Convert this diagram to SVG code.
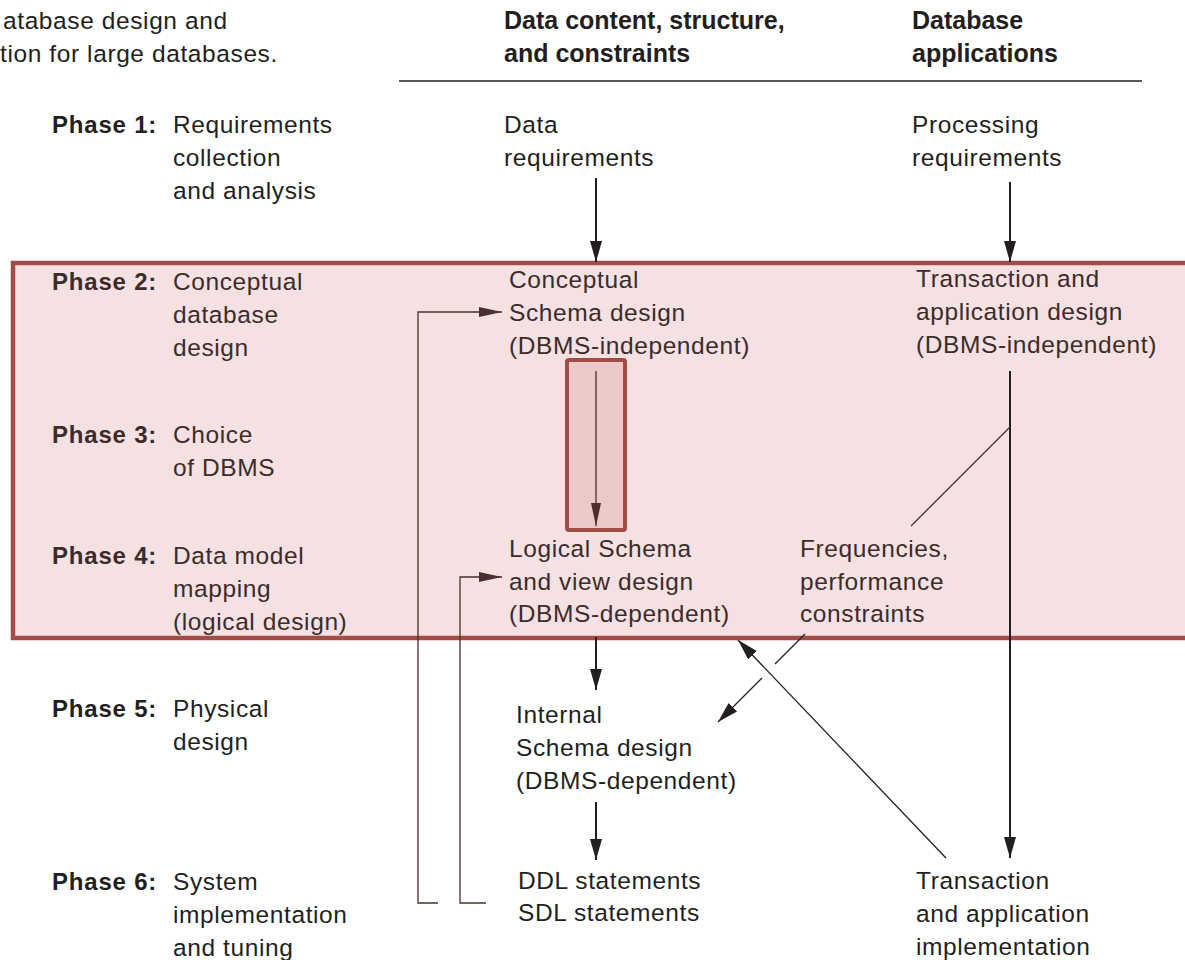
<svg xmlns="http://www.w3.org/2000/svg" width="1185" height="960" viewBox="0 0 1185 960">
  <style>
    text { font-family: "Liberation Sans", Arial, sans-serif; font-size: 24.5px; letter-spacing: 0.6px; fill: #231f20; }
    .band text { fill: #3d2b2b; }
    .phase { font-weight: bold; font-size: 24px; letter-spacing: 0.8px; }
    .head { font-weight: bold; font-size: 25px; letter-spacing: 0; }
    .ln { fill: none; stroke: #231f20; }
    .thick { stroke-width: 2; }
    .thin { stroke-width: 1.3; }
    .brown { stroke: #4a2f2e; }
  </style>
  <defs>
    <marker id="ah" markerUnits="userSpaceOnUse" markerWidth="22" markerHeight="14" refX="21" refY="6" orient="auto">
      <path d="M0,0 L21,6 L0,12 z" fill="#231f20"/>
    </marker>
    <marker id="ahb" markerUnits="userSpaceOnUse" markerWidth="24" markerHeight="12" refX="23" refY="5" orient="auto">
      <path d="M0,0 L23,5 L0,10 z" fill="#4a2f2e"/>
    </marker>
  </defs>

  <rect width="1185" height="960" fill="#ffffff"/>

  <!-- shaded band for phases 2 to 4 -->
  <rect x="13" y="263" width="1200" height="375" fill="#f5e1e1" stroke="#a24c47" stroke-width="4.5"/>
  <!-- DBMS choice highlight -->
  <rect x="567" y="360" width="58" height="170" rx="2" fill="#ecc9c9" stroke="#a24c47" stroke-width="4"/>

  <!-- caption fragment -->
  <g id="caption">
    <text x="3" y="29">atabase design and</text>
    <text x="0" y="62">tion for large databases.</text>
  </g>

  <!-- column headings -->
  <g id="col-data">
    <text class="head" x="504" y="29">Data content, structure,</text>
    <text class="head" x="504" y="62">and constraints</text>
  </g>
  <g id="col-apps">
    <text class="head" x="912" y="29">Database</text>
    <text class="head" x="912" y="62">applications</text>
  </g>
  <line x1="399" y1="81" x2="1142" y2="81" stroke="#231f20" stroke-width="1.5"/>

  <!-- phase labels -->
  <g id="phase1">
    <text class="phase" x="52" y="133">Phase 1:</text>
    <text x="173" y="133">Requirements</text>
    <text x="173" y="166">collection</text>
    <text x="173" y="199">and analysis</text>
  </g>
  <g class="band">
    <g id="phase2">
      <text class="phase" x="52" y="290">Phase 2:</text>
      <text x="173" y="290">Conceptual</text>
      <text x="173" y="323">database</text>
      <text x="173" y="356">design</text>
    </g>
    <g id="phase3">
      <text class="phase" x="52" y="443">Phase 3:</text>
      <text x="173" y="443">Choice</text>
      <text x="173" y="476">of DBMS</text>
    </g>
    <g id="phase4">
      <text class="phase" x="52" y="564">Phase 4:</text>
      <text x="173" y="564">Data model</text>
      <text x="173" y="597">mapping</text>
      <text x="173" y="630">(logical design)</text>
    </g>

    <g id="conceptual-schema">
      <text x="509" y="288">Conceptual</text>
      <text x="509" y="321">Schema design</text>
      <text x="509" y="354">(DBMS-independent)</text>
    </g>
    <g id="transaction-design">
      <text x="916" y="287">Transaction and</text>
      <text x="916" y="320">application design</text>
      <text x="916" y="353">(DBMS-independent)</text>
    </g>
    <g id="logical-schema">
      <text x="509" y="557">Logical Schema</text>
      <text x="509" y="590">and view design</text>
      <text x="509" y="622">(DBMS-dependent)</text>
    </g>
    <g id="frequencies">
      <text x="800" y="557">Frequencies,</text>
      <text x="800" y="590">performance</text>
      <text x="800" y="622">constraints</text>
    </g>
  </g>
  <g id="phase5">
    <text class="phase" x="52" y="717">Phase 5:</text>
    <text x="173" y="717">Physical</text>
    <text x="173" y="750">design</text>
  </g>
  <g id="phase6">
    <text class="phase" x="52" y="890">Phase 6:</text>
    <text x="173" y="890">System</text>
    <text x="173" y="923">implementation</text>
    <text x="173" y="956">and tuning</text>
  </g>

  <!-- nodes -->
  <g id="data-requirements">
    <text x="504" y="133">Data</text>
    <text x="504" y="166">requirements</text>
  </g>
  <g id="processing-requirements">
    <text x="912" y="133">Processing</text>
    <text x="912" y="166">requirements</text>
  </g>
  <g id="internal-schema">
    <text x="516" y="723">Internal</text>
    <text x="516" y="756">Schema design</text>
    <text x="516" y="789">(DBMS-dependent)</text>
  </g>
  <g id="ddl-sdl">
    <text x="518" y="889">DDL statements</text>
    <text x="518" y="921">SDL statements</text>
  </g>
  <g id="transaction-impl">
    <text x="916" y="889">Transaction</text>
    <text x="916" y="922">and application</text>
    <text x="916" y="955">implementation</text>
  </g>

  <!-- connectors -->
  <g id="connectors">
    <line class="ln thick" x1="596" y1="178" x2="596" y2="262" marker-end="url(#ah)"/>
    <line class="ln thick" x1="1010" y1="182" x2="1010" y2="262" marker-end="url(#ah)"/>
    <line class="ln thin brown" x1="596" y1="371" x2="596" y2="526" marker-end="url(#ahb)"/>
    <line class="ln thick" x1="596" y1="637" x2="596" y2="690" marker-end="url(#ah)"/>
    <line class="ln thick" x1="596" y1="802" x2="596" y2="860" marker-end="url(#ah)"/>
    <line class="ln thick" x1="1010" y1="371" x2="1010" y2="858" marker-end="url(#ah)"/>
    <!-- feedback loops -->
    <polyline class="ln thin brown" points="438,903 418,903 418,312 502,312" marker-end="url(#ahb)"/>
    <polyline class="ln thin brown" points="486,903 460,903 460,577 502,577" marker-end="url(#ahb)"/>
    <!-- frequency / performance feed -->
    <line class="ln thin brown" x1="1010" y1="427" x2="911" y2="526"/>
    <line class="ln thin" x1="805" y1="634" x2="775" y2="664"/>
    <line class="ln thin" x1="762" y1="678" x2="718" y2="722" marker-end="url(#ah)"/>
    <line class="ln thin" x1="946" y1="858" x2="738" y2="640" marker-end="url(#ah)"/>
  </g>
</svg>
